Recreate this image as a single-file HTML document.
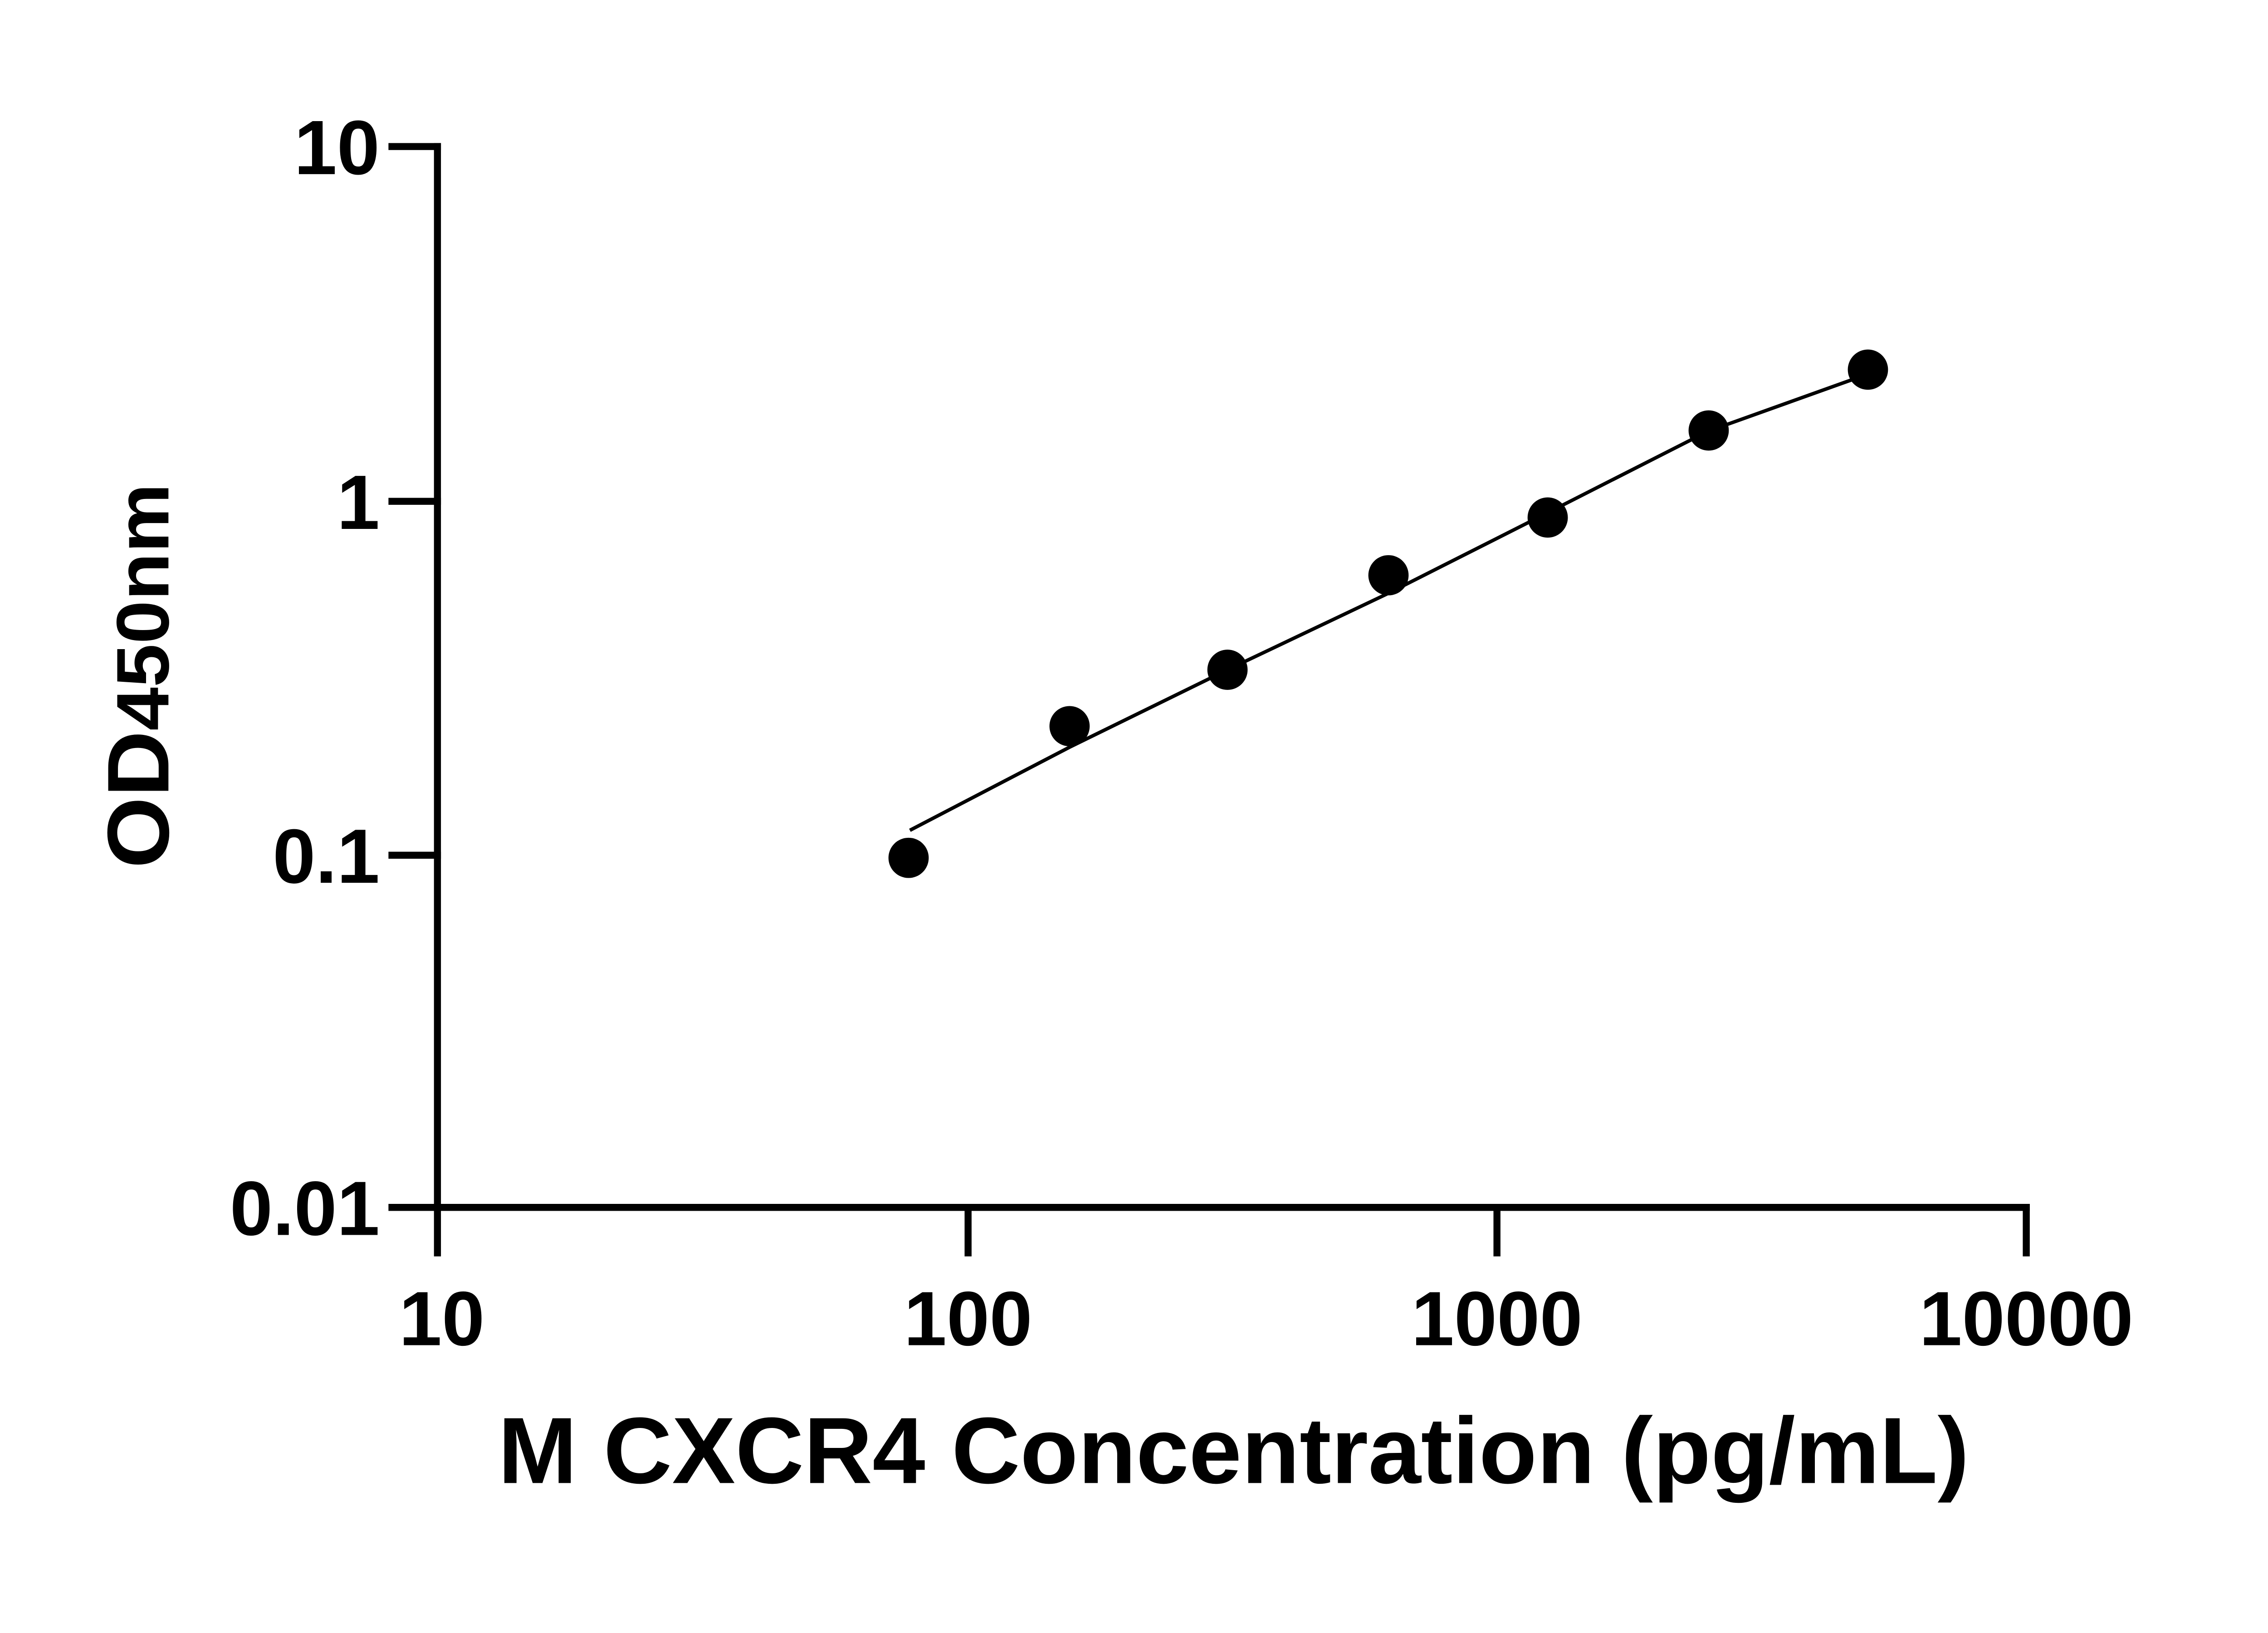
<!DOCTYPE html>
<html><head><meta charset="utf-8"><style>html,body{margin:0;padding:0;background:#fff}svg{display:block}</style></head>
<body>
<svg width="5142" height="3600" viewBox="0 0 5142 3600" xmlns="http://www.w3.org/2000/svg">
<rect width="5142" height="3600" fill="#fff"/>
<g transform="scale(0.9644)">
<g stroke="#000" stroke-width="16" fill="none" stroke-linecap="square">
<line x1="1000" y1="335" x2="1000" y2="2760"/>
<line x1="1000" y1="2760" x2="4632" y2="2760"/>
<line x1="896" y1="335" x2="1000" y2="335"/>
<line x1="896" y1="1146" x2="1000" y2="1146"/>
<line x1="896" y1="1955" x2="1000" y2="1955"/>
<line x1="896" y1="2760" x2="1000" y2="2760"/>
<line x1="1000" y1="2760" x2="1000" y2="2864"/>
<line x1="2213" y1="2760" x2="2213" y2="2864"/>
<line x1="3422" y1="2760" x2="3422" y2="2864"/>
<line x1="4632" y1="2760" x2="4632" y2="2864"/>
</g>
<g font-family="Liberation Sans, sans-serif" font-weight="bold" font-size="176" fill="#000">
<text x="868" y="398" text-anchor="end">10</text>
<text x="868" y="1209" text-anchor="end">1</text>
<text x="868" y="2018" text-anchor="end">0.1</text>
<text x="868" y="2823" text-anchor="end">0.01</text>
<text x="1010" y="3075" text-anchor="middle">10</text>
<text x="2213" y="3075" text-anchor="middle">100</text>
<text x="3422" y="3075" text-anchor="middle">1000</text>
<text x="4632" y="3075" text-anchor="middle">10000</text>
</g>
<text x="2820" y="3390" text-anchor="middle" font-family="Liberation Sans, sans-serif" font-weight="bold" font-size="215" textLength="3363" lengthAdjust="spacingAndGlyphs">M CXCR4 Concentration (pg/mL)</text>
<text transform="translate(385,1545) rotate(-90)" text-anchor="middle" font-family="Liberation Sans, sans-serif" font-weight="bold" font-size="200" textLength="880" lengthAdjust="spacingAndGlyphs">OD<tspan font-size="170">450nm</tspan></text>
<polyline fill="none" stroke="#000" stroke-width="8" points="2080,1898 2445,1708 2806,1531 3172,1357 3536,1173 3904,986 4270,855"/>
<g fill="#000">
<circle cx="2077" cy="1961" r="46"/>
<circle cx="2445" cy="1660" r="46"/>
<circle cx="2806" cy="1531" r="46"/>
<circle cx="3174" cy="1315" r="46"/>
<circle cx="3538" cy="1183" r="46"/>
<circle cx="3906" cy="984" r="46"/>
<circle cx="4270" cy="845" r="46"/>
</g>
</g>
</svg>
</body></html>
